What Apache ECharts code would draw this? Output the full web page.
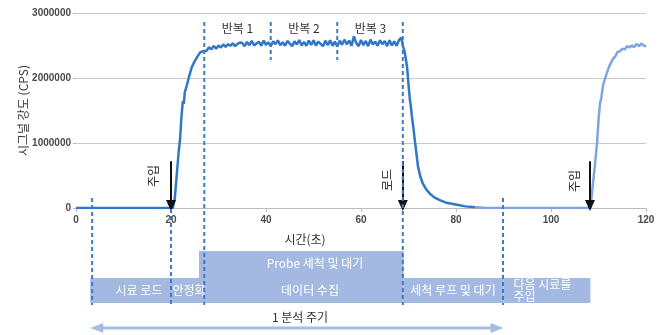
<!DOCTYPE html>
<html><head><meta charset="utf-8">
<script src="https://cdn.jsdelivr.net/npm/echarts@6/dist/echarts.min.js"></script>
<style>html,body{margin:0;padding:0;background:#fff}#c{width:660px;height:335px}</style>
</head><body><div id="c"></div>
<script>
// ---- data ----
const xTicks = [0, 20, 40, 60, 80, 100, 120];
const yTicks = [0, 1000000, 2000000, 3000000];
// dark trace (sample load, data acquisition, wash-out) : time (s), signal (thousand CPS)
const timeA = [0,20.4,20.8,21.2,21.6,21.9,22.2,22.5,22.7,22.9,23.3,23.8,24.4,25,25.5,26.1,26.6,27,27.5,28,28.5,29,29.5,30,30.5,31,31.5,32,32.5,33,33.5,34,34.5,
35,35.5,36,36.5,37,37.5,38,38.5,39,39.5,40,40.5,41,41.5,42,42.5,43,43.5,44,44.5,45,45.5,46,46.5,47,47.5,48,48.5,49,49.5,50,50.5,51,51.5,52,52.5,53,53.5,54,54.5,
55,55.5,56,56.5,57,57.5,58,58.5,59,59.5,60,60.5,61,61.5,62,62.5,63,63.5,64,64.5,65,65.5,66,66.5,67,67.5,68,68.5,68.8,69.2,69.7,70,70.3,70.5,70.7,71,71.4,72,72.5,73,73.7,74.5,75.5,76.6,78,80.2,82,84];
const signalA = [0,0,150,500,850,1050,1400,1650,1600,1780,1880,2020,2170,2260,2320,2390,2410,
2440,2420,2475,2440,2495,2450,2500,2470,2515,2480,2520,2495,2535,2490,2525,2545,
2540,2490,2555,2505,2570,2500,2530,2560,2495,2575,2510,2550,2490,2565,2520,2580,2505,2550,2495,2570,2530,2490,2565,2515,2585,2500,2555,2495,2575,2510,2580,2500,2560,2525,2490,2575,2505,2580,2495,2560,
2485,2575,2510,2590,2520,2575,2495,2640,2540,2490,2585,2505,2570,2490,2590,2515,2560,2495,2580,2520,2570,2490,2580,2500,2565,2495,2585,2620,2500,2400,2170,1900,1660,1560,1420,1250,1000,640,480,380,290,220,160,120,80,50,25,10];
// light trace (next sample)
const timeB = [84,86,88,108.3,108.8,109.3,109.7,110,110.3,110.6,111,111.5,112,112.4,113,113.5,114,114.5,115,115.5,116,116.5,117,117.5,118,118.5,119,119.5,120];
const signalB = [10,3,0,0,350,700,1000,1350,1600,1700,1900,2020,2130,2200,2290,2330,2400,2410,2450,2440,2490,2470,2500,2475,2525,2490,2530,2500,2485];
// event times (s)
const injectTimes = [20.0, 108.2];
const rinseTime = 68.8;
const repeatBounds = [27, 41, 55, 69];
const repeatLabels = ['반복 1', '반복 2', '반복 3'];
// timeline blocks: [start, end, tall?]
const phases = [
  [3, 20, false],
  [20, 27, false],
  [25.9, 69, true],
  [69, 90, false],
  [90, 108.3, false]
];
const cycle = [3, 90];

const cjk = '"Noto Sans CJK KR", "Noto Sans", sans-serif';
const narrow = '"Liberation Sans Narrow", "Liberation Sans", Arial, sans-serif';

const seriesA = timeA.map((t, i) => [t, signalA[i] * 1000]);
const seriesB = timeB.map((t, i) => [t, signalB[i] * 1000]);

const chart = echarts.init(document.getElementById('c'), null, {renderer: 'canvas'});
const arrowLines = injectTimes.concat([rinseTime]).map(t => [
  {coord: [t, 720000], symbol: 'none'}, {coord: [t, 40000], symbol: 'triangle'}
]);
chart.setOption({
  animation: false,
  grid: {left: 76, right: 14, top: 13, bottom: 127},
  xAxis: {
    type: 'value', min: 0, max: 120, interval: 20,
    axisLine: {show: true, lineStyle: {color: '#bbb', width: 1}},
    axisTick: {show: true, length: 4, lineStyle: {color: '#bbb'}},
    splitLine: {show: false},
    axisLabel: {color: '#4a4a4a', fontFamily: narrow, fontWeight: 'bold', fontSize: 10, margin: 7,
      formatter: v => xTicks.includes(v) ? String(v) : ''}
  },
  yAxis: {
    type: 'value', min: 0, max: 3000000, interval: 1000000,
    name: '시그널 강도 (CPS)', nameLocation: 'middle', nameGap: 47, nameMoveOverlap: false,
    nameTextStyle: {color: '#333', fontFamily: cjk, fontSize: 12},
    axisLine: {show: false},
    axisTick: {show: true, length: 3, lineStyle: {color: '#bbb'}},
    splitLine: {show: true, lineStyle: {color: '#c8c8c8', width: 1}},
    axisLabel: {color: '#4a4a4a', fontFamily: narrow, fontWeight: 'bold', fontSize: 10, margin: 5,
      formatter: v => yTicks.includes(v) ? String(v) : ''}
  },
  series: [
    {type: 'line', data: seriesA, showSymbol: false, smooth: false,
      lineStyle: {color: '#3277c6', width: 2.5}, z: 3,
      markLine: {silent: true, symbolSize: [10, 11], animation: false,
        lineStyle: {color: '#111', width: 2, type: 'solid'}, label: {show: false},
        data: arrowLines}},
    {type: 'line', data: seriesB, showSymbol: false,
      lineStyle: {color: '#7ea6de', width: 2.5}, z: 2}
  ]
});

// ---- overlay via the chart's own scale ----
const px = t => chart.convertToPixel({xAxisIndex: 0}, t);
const py = v => chart.convertToPixel({yAxisIndex: 0}, v);
const g = [];
const blockColor = '#a3b9e1';
const yLowTop = 278, yTallTop = 251, yBlockBot = 303;
phases.forEach(p => {
  const x0 = px(p[0]), x1 = px(p[1]);
  const top = p[2] ? yTallTop : yLowTop;
  g.push({type: 'rect', shape: {x: x0, y: top, width: x1 - x0, height: yBlockBot - top},
    style: {fill: blockColor}, z: 1});
});
const F = '12px ' + cjk;
// block labels
const lab = (x, y, text) => g.push({type: 'text', x: x, y: y, z: 5,
  style: {text: text, fill: '#fff', font: F, align: 'center', verticalAlign: 'middle'}});
lab(139, 290, '시료 로드');
lab(189, 290, '안정화');
lab(315, 263, 'Probe 세척 및 대기');
lab(310, 290, '데이터 수집');
lab(453, 290, '세척 루프 및 대기');
g.push({type: 'text', x: px(90) + 10, y: 290, z: 5,
  style: {text: '다음 시료를\n주입', fill: '#fff', font: F, lineHeight: 12, align: 'left', verticalAlign: 'middle'}});

// dashed verticals
const dash = (t, y0, y1) => g.push({type: 'line', z: 6,
  shape: {x1: px(t), y1: y0, x2: px(t), y2: y1},
  style: {stroke: '#3f7bc4', lineWidth: 2, lineDash: [4, 3]}});
const yTop = 22, yAxisPix = py(0);
dash(3.4, yAxisPix - 10, yBlockBot + 2);
dash(20.0, yAxisPix + 1, yBlockBot + 2);
dash(repeatBounds[0], yTop, yBlockBot + 2);
dash(repeatBounds[1], yTop, 60);
dash(repeatBounds[2], yTop, 60);
dash(68.8, yTop, yBlockBot + 2);
dash(89.9, yAxisPix - 10, yBlockBot + 2);

// repeat labels
repeatLabels.forEach((s, i) => g.push({type: 'text', z: 6,
  x: (px(repeatBounds[i]) + px(repeatBounds[i + 1])) / 2, y: 28,
  style: {text: s, fill: '#333', font: F, align: 'center', verticalAlign: 'middle'}}));

// rotated annotation texts beside arrows
const rot = (t, dx, yc, s) => g.push({type: 'text', z: 6, x: px(t) + dx, y: yc, rotation: Math.PI / 2,
  style: {text: s, fill: '#222', font: F, align: 'center', verticalAlign: 'middle'}});
rot(injectTimes[0], -18, 176, '주입');
rot(rinseTime, -15, 180, '로드');
rot(injectTimes[1], -16, 181, '주입');

// x-axis title
g.push({type: 'text', z: 6, x: 305, y: 239,
  style: {text: '시간(초)', fill: '#333', font: F, align: 'center', verticalAlign: 'middle'}});

// analysis cycle arrow
const ax0 = px(cycle[0]) , ax1 = px(cycle[1]), ay = 328, ac = '#a6bde3';
g.push({type: 'line', z: 4, shape: {x1: ax0 + 10, y1: ay, x2: ax1 - 10, y2: ay}, style: {stroke: ac, lineWidth: 3}});
g.push({type: 'polygon', z: 4, shape: {points: [[ax0, ay], [ax0 + 13, ay - 5], [ax0 + 13, ay + 5]]}, style: {fill: ac}});
g.push({type: 'polygon', z: 4, shape: {points: [[ax1, ay], [ax1 - 13, ay - 5], [ax1 - 13, ay + 5]]}, style: {fill: ac}});
g.push({type: 'text', z: 6, x: 300, y: 317,
  style: {text: '1 분석 주기', fill: '#333', font: F, align: 'center', verticalAlign: 'middle'}});

chart.setOption({graphic: {elements: g}});
</script></body></html>
